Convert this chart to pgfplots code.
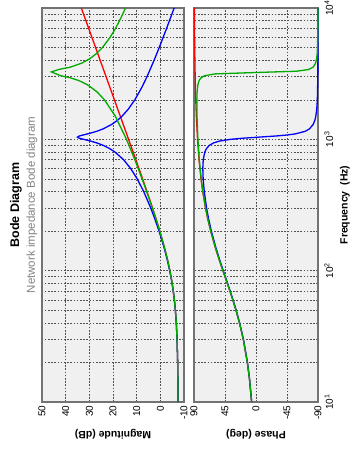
\documentclass[border=0pt]{standalone}
\usepackage{pgfplots}
\pgfplotsset{compat=1.18}
\usepackage{fontspec}
\setmainfont{Liberation Sans}
\usepackage{graphicx}
\definecolor{axbg}{RGB}{240,240,240}
\definecolor{framec}{RGB}{115,115,115}
\definecolor{gridc}{RGB}{80,80,80}
\definecolor{mgreen}{RGB}{0,170,0}
\definecolor{subgray}{RGB}{130,130,130}
\pgfplotsset{
  bodeax/.style={
    scale only axis, width=394pt, xmin=10, xmax=10000,
    anchor=south west,
    axis background/.style={fill=axbg},
    axis line style={draw=framec, line width=1.4pt},
    xmajorgrids=true, xminorgrids=true, ymajorgrids=true,
    major grid style={gridc, dash pattern=on 1.6pt off 1.6pt, line width=0.6pt},
    minor grid style={gridc, dash pattern=on 1.6pt off 1.6pt, line width=0.6pt},
    major tick length=0pt, minor tick length=0pt,
    xtick={10,100,1000,10000},
    minor xtick={20,30,40,50,60,70,80,90,200,300,400,500,600,700,800,900,2000,3000,4000,5000,6000,7000,8000,9000},
    ticklabel style={font=\fontsize{10}{12}\selectfont},
    every axis y label/.style={at={(axis description cs:-0.0812,0.5)}, rotate=90, anchor=center, font=\bfseries\fontsize{10.5}{12}\selectfont},
    clip=false,
    every axis plot/.append style={line width=1.3pt, no markers},
  }
}
\begin{document}
\rotatebox{90}{%
\begin{tikzpicture}[x=1pt,y=1pt]
\useasboundingbox (0,0) rectangle (450,352);
% Magnitude
\begin{semilogxaxis}[bodeax, at={(48pt,168pt)}, height=142pt,
  ymin=-10, ymax=50, ytick={-10,0,10,20,30,40,50},
  yticklabels={-10,0,10,20,30,40,50},
  xticklabels={},
  ylabel={Magnitude (dB)}]
\addplot[red] coordinates {(10,-7.48) (15,-7.42) (20,-7.33) (30,-7.08) (40,-6.75) (50,-6.37) (60,-5.94) (70,-5.48) (80,-5.01) (90,-4.52) (100,-4.04) (120,-3.10) (150,-1.76) (200,0.20) (250,1.87) (300,3.30) (400,5.64) (500,7.50) (700,10.35) (1000,13.42) (1500,16.92) (2000,19.41) (3000,22.93) (5000,27.36) (7000,30.28) (10000,33.38)};
\addplot[blue] coordinates {(10,-7.48) (15,-7.42) (20,-7.33) (30,-7.07) (40,-6.74) (50,-6.35) (60,-5.91) (70,-5.44) (80,-4.96) (90,-4.45) (100,-3.96) (120,-2.98) (150,-1.58) (200,0.53) (250,2.39) (300,4.05) (400,7.02) (500,9.77) (600,12.53) (700,15.54) (800,19.17) (850,21.40) (900,24.14) (940,26.91) (970,29.45) (1000,32.41) (1020,34.22) (1040,35.01) (1060,34.24) (1080,32.55) (1100,30.73) (1150,26.93) (1200,24.21) (1300,20.52) (1400,18.04) (1500,16.19) (1700,13.51) (2000,10.77) (2500,7.75) (3000,5.63) (4000,2.63) (5000,0.47) (7000,-2.65) (10000,-5.84)};
\addplot[mgreen] coordinates {(10,-7.48) (15,-7.42) (20,-7.33) (30,-7.08) (40,-6.75) (50,-6.37) (60,-5.94) (70,-5.48) (80,-5.01) (90,-4.51) (100,-4.03) (120,-3.09) (150,-1.74) (200,0.23) (250,1.92) (300,3.38) (400,5.77) (500,7.71) (700,10.77) (1000,14.30) (1500,19.03) (2000,23.61) (2300,26.76) (2600,30.74) (2800,34.38) (2950,38.28) (3050,42.13) (3260,46.0) (3400,43.03) (3550,37.94) (3800,33.26) (4100,29.90) (4500,26.97) (5000,24.46) (6000,21.15) (7000,18.92) (8500,16.52) (10000,14.71)};
\end{semilogxaxis}
% Phase
\begin{semilogxaxis}[bodeax, at={(48pt,34pt)}, height=124pt,
  ymin=-90, ymax=90, ytick={-90,-45,0,45,90},
  yticklabels={-90,-45,0,45,90},
  xticklabels={10\textsuperscript{1},10\textsuperscript{2},10\textsuperscript{3},10\textsuperscript{4}},
  xticklabel style={yshift=-3pt},
  ylabel={Phase (deg)},
  xlabel={Frequency\ \ (Hz)},
  every axis x label/.style={at={(axis description cs:0.5,-0.2177)}, anchor=center, font=\bfseries\fontsize{10.5}{12}\selectfont}]
\addplot[red] coordinates {(10,6.34) (15,9.46) (20,12.53) (30,18.43) (40,23.96) (50,29.05) (60,33.69) (70,37.87) (80,41.63) (90,45) (100,48.01) (120,53.13) (150,59.04) (200,65.77) (250,70.20) (300,73.30) (400,77.32) (500,79.80) (700,82.67) (1000,84.86) (1500,86.57) (2000,87.42) (3000,88.28) (5000,88.97) (7000,89.26) (10000,89.48)};
\addplot[blue] coordinates {(10,6.29) (15,9.39) (20,12.43) (30,18.29) (40,23.77) (50,28.81) (60,33.40) (70,37.54) (80,41.25) (90,44.57) (100,47.53) (120,52.55) (150,58.31) (200,64.78) (250,68.94) (300,71.74) (400,75.08) (500,76.70) (600,77.19) (700,76.59) (800,74.32) (850,71.94) (900,67.69) (940,61.40) (970,52.89) (1000,37.05) (1020,19.15) (1040,-4.95) (1060,-28.60) (1080,-45.88) (1100,-57.05) (1150,-71.22) (1200,-77.53) (1300,-83.08) (1400,-85.52) (1500,-86.84) (1700,-88.20) (2000,-89.05) (3000,-89.77) (5000,-89.95) (10000,-90.0)};
\addplot[mgreen] coordinates {(10,6.34) (15,9.46) (20,12.52) (30,18.41) (40,23.94) (50,29.03) (60,33.66) (70,37.84) (80,41.59) (90,44.96) (100,47.96) (120,53.07) (150,58.97) (200,65.67) (250,70.08) (300,73.15) (400,77.12) (500,79.55) (700,82.31) (1000,84.31) (1500,85.62) (2000,85.82) (2300,85.46) (2600,84.37) (2800,82.61) (2950,79.53) (3050,74.65) (3150,59.30) (3230,-1.60) (3300,-58.54) (3400,-76.33) (3550,-83.06) (3800,-86.48) (4100,-87.95) (4500,-88.79) (5000,-89.26) (7000,-89.80) (10000,-89.94)};
\end{semilogxaxis}
\node[font=\bfseries\fontsize{12.5}{14}\selectfont] at (245,336) {Bode Diagram};
\node[font=\fontsize{11.5}{13}\selectfont, text=subgray] at (245,320) {Network impedance Bode diagram};
\end{tikzpicture}}
\end{document}
